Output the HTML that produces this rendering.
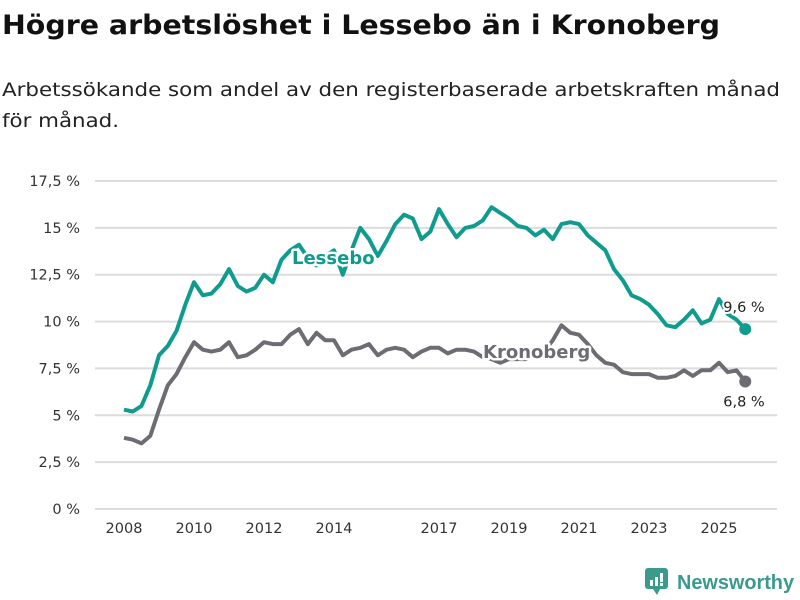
<!DOCTYPE html>
<html><head><meta charset="utf-8"><style>
body{margin:0;background:#fff;font-family:"DejaVu Sans","Liberation Sans",sans-serif;}
#wrap{position:relative;width:800px;height:600px;overflow:hidden;}
</style></head><body>
<div id="wrap">
<svg width="800" height="140" style="position:absolute;left:0;top:0">
<text x="2" y="34" font-size="27" font-weight="bold" fill="#111" textLength="718" lengthAdjust="spacingAndGlyphs">Högre arbetslöshet i Lessebo än i Kronoberg</text>
<text x="2" y="96" font-size="19" fill="#222" textLength="778" lengthAdjust="spacingAndGlyphs">Arbetssökande som andel av den registerbaserade arbetskraften månad</text>
<text x="2" y="127" font-size="19" fill="#222" textLength="117" lengthAdjust="spacingAndGlyphs">för månad.</text>
</svg>
<svg id="chart" width="800" height="600" style="position:absolute;left:0;top:0"></svg>
<div style="position:absolute;left:645px;top:568px;height:28px;">
<svg width="26" height="30" style="position:absolute;left:0;top:0"><rect x="0" y="0" width="23" height="21" rx="3" fill="#3a9a8e"/><path d="M8 21 L12 27 L15 21Z" fill="#3a9a8e"/><rect x="5" y="12" width="3" height="6" fill="#fff"/><rect x="10" y="9" width="3" height="9" fill="#fff"/><rect x="15" y="5" width="3" height="9" fill="#fff"/><rect x="15" y="15" width="3" height="3" fill="#fff"/></svg>
<svg width="130" height="30" style="position:absolute;left:32px;top:0"><text x="0" y="21" font-size="20" font-weight="bold" fill="#3a9a8e" textLength="117" lengthAdjust="spacingAndGlyphs" font-family="Liberation Sans, sans-serif">Newsworthy</text></svg>
</div>
</div>
<script>
const years = [2008,2010,2012,2014,2017,2019,2021,2023,2025];
const yTicks = [0,2.5,5,7.5,10,12.5,15,17.5];
const yTickLabels = ["0 %","2,5 %","5 %","7,5 %","10 %","12,5 %","15 %","17,5 %"];
const startYear = 2008;
const stepYears = 0.25;
const lessebo = [5.3,5.2,5.5,6.6,8.2,8.7,9.5,10.9,12.1,11.4,11.5,12.0,12.8,11.9,11.6,11.8,12.5,12.1,13.3,13.8,14.1,13.4,13.0,13.5,13.8,12.5,13.8,15.0,14.4,13.5,14.3,15.2,15.7,15.5,14.4,14.8,16.0,15.2,14.5,15.0,15.1,15.4,16.1,15.8,15.5,15.1,15.0,14.6,14.9,14.4,15.2,15.3,15.2,14.6,14.2,13.8,12.8,12.2,11.4,11.2,10.9,10.4,9.8,9.7,10.1,10.6,9.9,10.1,11.2,10.4,10.1,9.6];
const kronoberg = [3.8,3.7,3.5,3.9,5.3,6.6,7.2,8.1,8.9,8.5,8.4,8.5,8.9,8.1,8.2,8.5,8.9,8.8,8.8,9.3,9.6,8.8,9.4,9.0,9.0,8.2,8.5,8.6,8.8,8.2,8.5,8.6,8.5,8.1,8.4,8.6,8.6,8.3,8.5,8.5,8.4,8.1,8.0,7.8,8.0,8.0,8.0,8.2,8.4,9.0,9.8,9.4,9.3,8.8,8.2,7.8,7.7,7.3,7.2,7.2,7.2,7.0,7.0,7.1,7.4,7.1,7.4,7.4,7.8,7.3,7.4,6.8];
const lastLabels = ["9,6 %","6,8 %"];

const NS="http://www.w3.org/2000/svg";
const svg=document.getElementById('chart');
const X=t=>124+(t-2008)*35.0;
const Y=v=>509-v*18.743;
function mk(tag,attrs,parent){const e=document.createElementNS(NS,tag);for(const k in attrs)e.setAttribute(k,attrs[k]);(parent||svg).appendChild(e);return e;}

yTicks.forEach((v,i)=>{
  const l=mk('line',{x1:95,x2:777,y1:Y(v),y2:Y(v),stroke:'#dcdcdc','stroke-width':2});
  
  
  const t=mk('text',{x:80,y:Y(v)+5,'text-anchor':'end','font-size':14.5,fill:'#333'});
  t.textContent=yTickLabels[i];
  
  
});
years.forEach(y=>{
  const t=mk('text',{x:X(y),y:533,'text-anchor':'middle','font-size':14.5,fill:'#333'});
  t.textContent=y;
  
  
});

function series(data,color,name){
  const pts=data.map((v,i)=>X(startYear+i*stepYears).toFixed(1)+','+Y(v).toFixed(1)).join(' ');
  const p=mk('polyline',{points:pts,fill:'none',stroke:color,'stroke-width':4,'stroke-linejoin':'round'});
  
  
  const n=data.length-1;
  const c=mk('circle',{cx:X(startYear+n*stepYears),cy:Y(data[n]),r:6,fill:color});
  
  
}
series(kronoberg,'#6e6c73','kronoberg');
series(lessebo,'#0f9b8e','lessebo');

function lbl(txt,x,y,color,name,size,bold){
  const t=mk('text',{x:x,y:y,'font-size':size,'font-weight':bold?'bold':'normal',fill:color,stroke:'#fff','stroke-width':bold?5:4,'paint-order':'stroke','stroke-linejoin':'round'});
  t.textContent=txt;
  
  
}
lbl('Lessebo',292,264,'#0f9b8e','lessebo-series-label',18,true);
lbl('Kronoberg',483,358,'#6e6c73','kronoberg-series-label',18,true);
const n=lessebo.length-1;
lbl(lastLabels[0],X(startYear+n*stepYears)-22,Y(lessebo[n])-17,'#222','lessebo-last-value',14.5,false);
lbl(lastLabels[1],X(startYear+n*stepYears)-22,Y(kronoberg[n])+25,'#222','kronoberg-last-value',14.5,false);
</script>
</body></html>
